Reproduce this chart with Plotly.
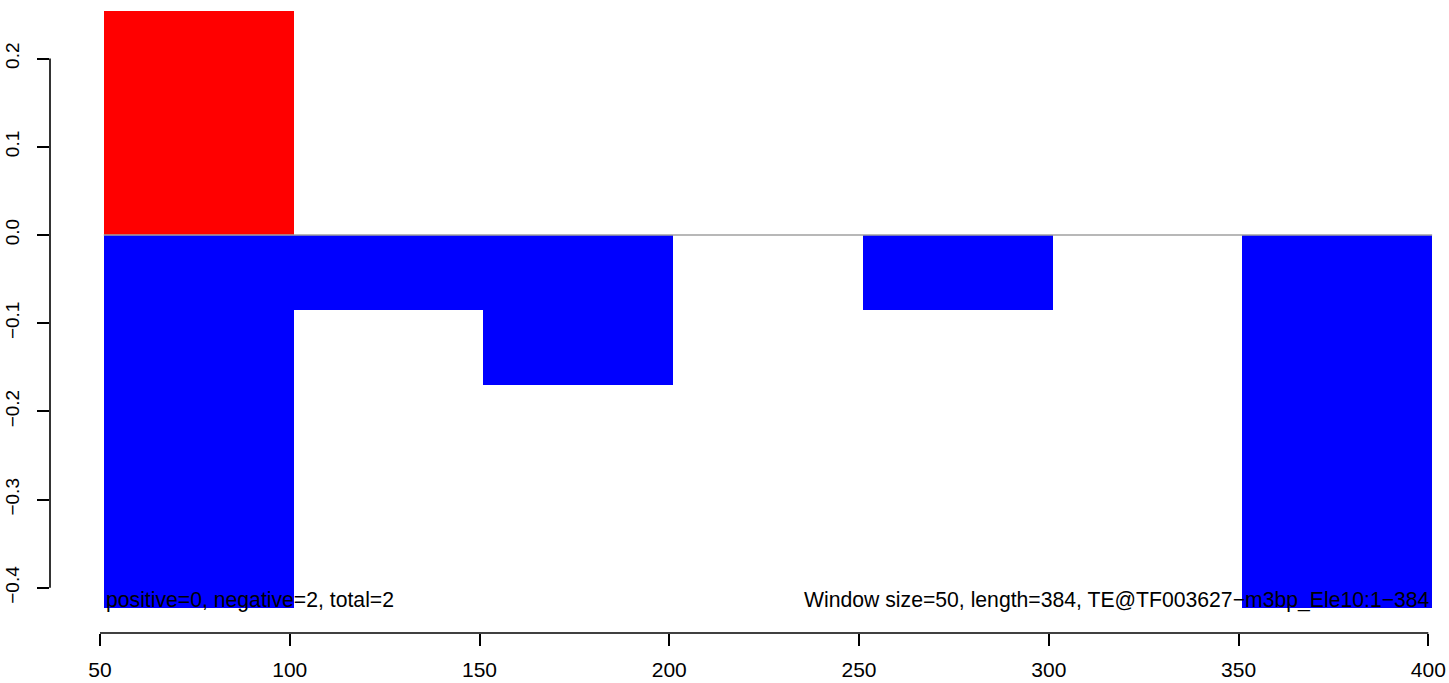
import plotly.graph_objects as go

# ---- data ----
window_starts = [51, 101, 151, 201, 251, 301, 351]
window_size = 50
positive_vals = [0.254, 0, 0, 0, 0, 0, 0]
negative_vals = [-0.423, -0.085, -0.17, 0, -0.085, 0, -0.423]
x_ticks = [50, 100, 150, 200, 250, 300, 350, 400]
y_ticks = [-0.4, -0.3, -0.2, -0.1, 0.0, 0.1, 0.2]
left_note = "positive=0, negative=2, total=2"
right_note = "Window size=50, length=384, TE@TF003627\u2212m3bp_Ele10:1\u2212384"

centers = [s + window_size / 2 for s in window_starts]
FONT = "Liberation Sans, Arial, Helvetica, sans-serif"

fig = go.Figure()
fig.add_trace(go.Bar(x=centers, y=positive_vals, width=window_size,
                     marker=dict(color="#ff0000", line=dict(width=0)),
                     showlegend=False, hoverinfo="skip"))
fig.add_trace(go.Bar(x=centers, y=negative_vals, width=window_size,
                     marker=dict(color="#0000ff", line=dict(width=0)),
                     showlegend=False, hoverinfo="skip"))
# zero reference line across the windows
fig.add_trace(go.Scatter(x=[window_starts[0], window_starts[-1] + window_size], y=[0, 0],
                         mode="lines", line=dict(color="#a0a0a0", width=1.5),
                         showlegend=False, hoverinfo="skip"))

ymin = min(negative_vals)
fig.add_annotation(x=window_starts[0], y=ymin, text=left_note, showarrow=False,
                   xanchor="left", yanchor="bottom", yshift=-6,
                   font=dict(family=FONT, size=21.2, color="black"))
fig.add_annotation(x=window_starts[-1] + window_size, y=ymin, text=right_note, showarrow=False,
                   xanchor="right", yanchor="bottom", yshift=-6,
                   font=dict(family=FONT, size=21.2, color="black"))

# R-style axis lines spanning only first..last tick
fig.add_shape(type="line", xref="x", yref="paper", x0=x_ticks[0], x1=x_ticks[-1], y0=0, y1=0,
              line=dict(color="black", width=1.6))
fig.add_shape(type="line", xref="paper", yref="y", x0=0, x1=0, y0=y_ticks[0], y1=y_ticks[-1],
              line=dict(color="black", width=1.6))

fig.update_layout(
    width=1449, height=683,
    margin=dict(l=50, r=0, t=0, b=50),
    barmode="relative", bargap=0,
    plot_bgcolor="white", paper_bgcolor="white",
    font=dict(family=FONT, size=20, color="black"),
    xaxis=dict(range=[36.83, 405.45], tickmode="array", tickvals=x_ticks,
               ticktext=[str(v) for v in x_ticks], automargin=False,
               showgrid=False, zeroline=False, showline=False,
               ticks="outside", ticklen=12, tickwidth=1.6, tickcolor="black",
               tickfont=dict(size=21), ticklabelstandoff=6),
    yaxis=dict(range=[-0.4512, 0.2664], tickmode="array", tickvals=y_ticks,
               tickformat=".1f", tickangle=-90, automargin=False,
               showgrid=False, zeroline=False, showline=False,
               ticks="outside", ticklen=12, tickwidth=1.6, tickcolor="black",
               tickfont=dict(size=19), ticklabelstandoff=10),
)

fig.write_html("out.html", config={"displayModeBar": False},
               post_script="document.body.style.margin='0px';document.body.style.overflow='hidden';")
